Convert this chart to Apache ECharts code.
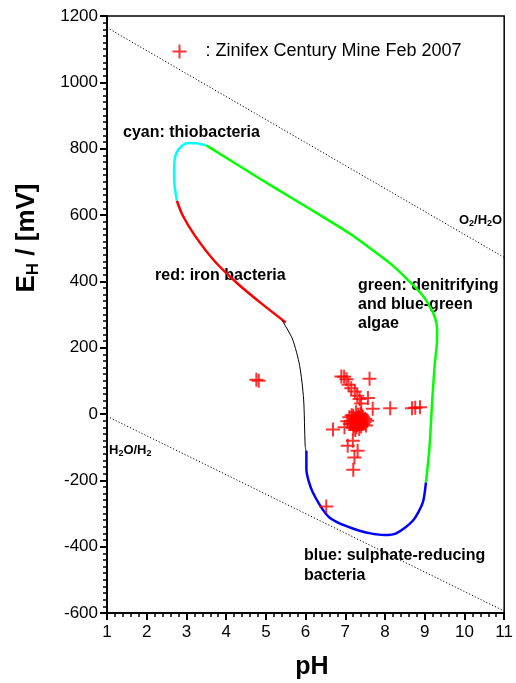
<!DOCTYPE html>
<html>
<head>
<meta charset="utf-8">
<script src="https://cdn.jsdelivr.net/npm/echarts@6/dist/echarts.min.js"></script>
<style>
  html, body { margin: 0; padding: 0; background: #fff; }
  #chart { width: 516px; height: 683px; }
</style>
</head>
<body>
<div id="chart"></div>
<script>
// Eh-pH stability field of bacteria with mine water samples

// Boundary curves of the bacterial fields, [pH, Eh mV]
const cyanCurve = [[2.76,643],[2.70,690],[2.69,740],[2.74,785],[2.88,808],[3.05,817],[3.25,816],[3.5,810]];
const greenCurve = [[3.5,810],[4.84,710],[5.68,649],[6.5,590],[7.1,545],[7.6,502],[8.19,448],[8.61,400],[8.95,357],[9.16,317],[9.26,290],[9.31,258],[9.31,226],[9.25,146],[9.19,45],[9.12,-100],[9.03,-206]];
const redCurve = [[2.76,643],[2.90,600],[3.20,540],[3.70,462],[4.30,392],[4.90,332],[5.50,276]];
const blackCurve = [[5.41,282],[5.67,226],[5.85,146],[5.95,45],[5.99,-96],[6.02,-115]];
const blueCurve = [[6.02,-111],[6.02,-166],[6.18,-236],[6.60,-312],[7.36,-352],[7.98,-365],[8.28,-360],[8.70,-322],[8.95,-267],[9.03,-206]];

// Water stability limits
const o2h2oLine = [[1,1165],[11,472]];
const h2oh2Line = [[1,-7],[11,-594]];

// Field measurements, [pH, Eh mV]
const samples = [
  [4.76,103],[4.82,100],
  [6.90,113],[6.97,112],[7.03,105],[7.08,88],[7.15,78],[7.24,68],[7.30,55],[7.36,45],[7.40,32],
  [7.61,106],[7.57,48],[7.69,16],[8.13,17],[8.68,17],[8.76,19],[8.88,20],
  [6.69,-47],[6.98,-40],[7.19,-81],[7.06,-96],[7.31,-111],[7.23,-131],[7.20,-168],[6.52,-279],
  [7.10,-10],[7.15,-20],[7.20,-5],[7.25,-15],[7.30,-25],[7.35,-10],[7.40,-20],[7.45,-30],
  [7.50,-15],[7.22,-35],[7.28,-40],[7.33,-30],[7.18,-28],[7.38,0],[7.42,-5],[7.27,5],
  [7.32,-2],[7.48,-25],[7.55,-20],[7.12,-30],[7.25,-48],[7.35,-45],[7.30,-12],[7.22,-20],
  [7.40,-38],[7.45,-10],[7.20,-42],[7.16,-4],[7.36,-22],[7.29,-33],[7.05,-22],[7.52,-35]
];
const sampleName = 'Zinifex Century Mine Feb 2007';

const crossPath = 'path://M0,6H12M6,0V12';
const font = 'Arial, "Liberation Sans", sans-serif';

function curve(data, color, width) {
  return {
    type: 'line', data: data, showSymbol: false, smooth: 0.25,
    lineStyle: { color: color, width: width }, silent: true, z: 3
  };
}

function note(text, x, y, extra) {
  return Object.assign({
    type: 'text', x: x, y: y,
    style: {
      text: text, fill: '#000', font: 'bold 16px ' + font,
      verticalAlign: 'middle', align: 'left'
    }
  }, extra || {});
}

const chart = echarts.init(document.getElementById('chart'), null, { renderer: 'canvas' });
chart.setOption({
  animation: false,
  backgroundColor: '#fff',
  grid: { left: 107, top: 16, right: 10, bottom: 70, show: true, borderColor: '#000', borderWidth: 1.5, backgroundColor: 'transparent' },
  legend: {
    left: 170, top: 42, padding: 0,
    itemWidth: 14, itemHeight: 14,
    data: [{ name: sampleName, icon: crossPath }],
    formatter: ': {name}',
    textStyle: { fontFamily: font, fontSize: 18, color: '#000', padding: [0, 0, 0, 14] },
    itemStyle: { color: 'none', borderColor: '#ff0000', borderWidth: 2 }
  },
  xAxis: {
    type: 'value', min: 1, max: 11, interval: 1,
    axisLine: { show: true, onZero: false, lineStyle: { color: '#000', width: 2 } },
    axisTick: { show: true, length: 7, lineStyle: { color: '#000', width: 2 } },
    minorTick: { show: true, splitNumber: 5, length: 4, lineStyle: { color: '#000', width: 1.5 } },
    axisLabel: { color: '#000', fontFamily: font, fontSize: 17, margin: 11 },
    splitLine: { show: false }
  },
  yAxis: {
    type: 'value', min: -600, max: 1200, interval: 200,
    axisLine: { show: true, onZero: false, lineStyle: { color: '#000', width: 2 } },
    axisTick: { show: true, length: 7, lineStyle: { color: '#000', width: 2 } },
    minorTick: { show: true, splitNumber: 10, length: 4, lineStyle: { color: '#000', width: 1.5 } },
    axisLabel: { color: '#000', fontFamily: font, fontSize: 17, margin: 9, formatter: v => String(v) },
    splitLine: { show: false }
  },
  series: [
    { type: 'line', data: o2h2oLine, showSymbol: false, silent: true, z: 2,
      lineStyle: { color: '#000', width: 1, type: [1.2, 2] } },
    { type: 'line', data: h2oh2Line, showSymbol: false, silent: true, z: 2,
      lineStyle: { color: '#000', width: 1, type: [1.2, 2] } },
    curve(redCurve, '#ff0000', 2.5),
    curve(blackCurve, '#000000', 1),
    curve(blueCurve, '#0000ff', 2.5),
    curve(greenCurve, '#00ff00', 2.5),
    curve(cyanCurve, '#00ffff', 2.5),
    {
      name: sampleName, type: 'scatter', data: samples, z: 5,
      symbol: crossPath, symbolSize: 14,
      itemStyle: { color: 'none', borderColor: '#ff0000', borderWidth: 2 }
    }
  ],
  graphic: [
    note('cyan: thiobacteria', 123, 133),
    note('red: iron bacteria', 155, 276),
    note('green: denitrifying', 358, 286),
    note('and blue-green', 358, 305),
    note('algae', 358, 324),
    note('blue: sulphate-reducing', 304, 556),
    note('bacteria', 304, 576),
    {
      type: 'text', x: 459, y: 220,
      style: {
        text: 'O{s|2}/H{s|2}O', fill: '#000', font: 'bold 13px ' + font,
        verticalAlign: 'middle',
        rich: { s: { fontSize: 9, fontWeight: 'bold', fontFamily: font, padding: [7, 0, 0, 0] } }
      }
    },
    {
      type: 'text', x: 109, y: 450,
      style: {
        text: 'H{s|2}O/H{s|2}', fill: '#000', font: 'bold 13px ' + font,
        verticalAlign: 'middle',
        rich: { s: { fontSize: 9, fontWeight: 'bold', fontFamily: font, padding: [7, 0, 0, 0] } }
      }
    },
    {
      type: 'text', x: 27, y: 238, rotation: Math.PI / 2,
      style: {
        text: 'E{s|H} / [mV]', fill: '#000', font: 'bold 26px ' + font,
        align: 'center', verticalAlign: 'middle',
        rich: { s: { fontSize: 17, fontWeight: 'bold', fontFamily: font, padding: [12, 0, 0, 0] } }
      }
    },
    {
      type: 'text', x: 312, y: 667,
      style: {
        text: 'pH', fill: '#000', font: 'bold 25px ' + font,
        align: 'center', verticalAlign: 'middle'
      }
    }
  ]
});
</script>
</body>
</html>
